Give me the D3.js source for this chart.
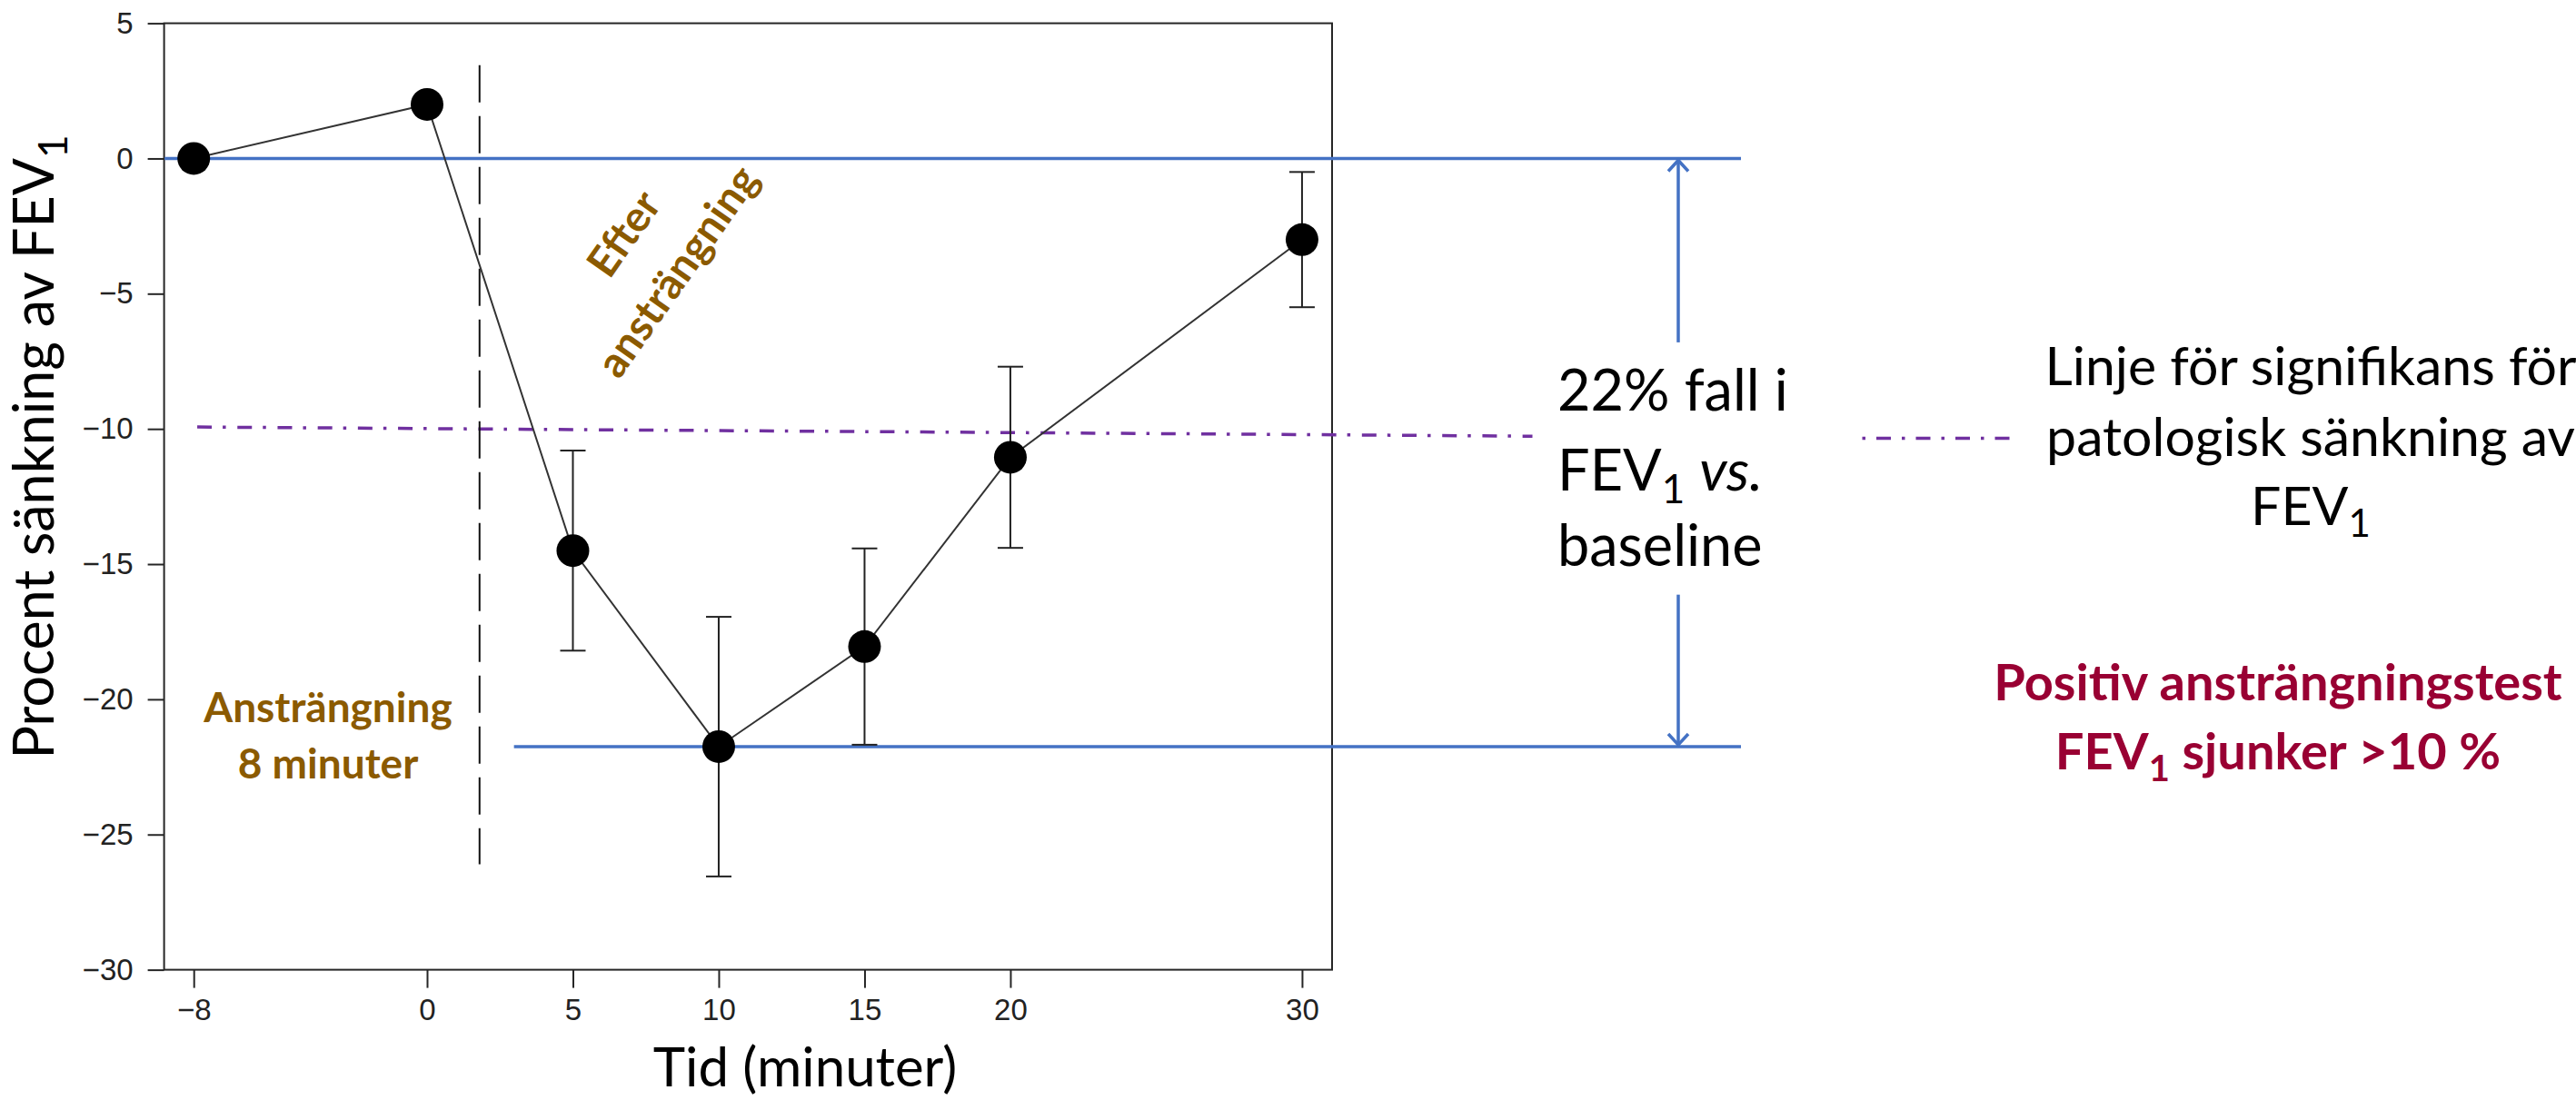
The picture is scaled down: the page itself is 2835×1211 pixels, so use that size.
<!DOCTYPE html>
<html>
<head>
<meta charset="utf-8">
<script src="https://cdn.jsdelivr.net/npm/d3@7"></script>
<style>
  html, body { margin: 0; padding: 0; background: #ffffff; }
  svg { display: block; }
</style>
</head>
<body>
<svg id="chart" width="2835" height="1211"></svg>
<script>
// ---------- data ----------
const times      = [-8, 0, 5, 10, 15, 20, 30];
const meanDrop   = [0, 2, -14.5, -21.75, -18.05, -11.05, -3.0];
const errHalf    = [null, null, 3.7, 4.8, 3.63, 3.35, 2.5];
const xTicks     = [-8, 0, 5, 10, 15, 20, 30];
const yTicks     = [5, 0, -5, -10, -15, -20, -25, -30];
const baselineLevel = 0;
const dropLevel     = -21.75;
const exerciseEnd   = 1.8;           // dashed vertical marker
const exerciseSpan  = [3.45, -26.1]; // y extent of marker
const sigLineX      = [-7.88, 37.9];
const sigLineY      = [-9.93, -10.27];
const blueTopX      = [-9.0, 45.05];
const blueBotX      = [2.98, 45.05];
const arrowX        = 42.9;
const arrowGap      = [-6.8, -16.13];

// ---------- setup ----------
const svg = d3.select("#chart");
const x = d3.scaleLinear().domain([-9.016, 31.03]).range([180.6, 1466]);
const y = d3.scaleLinear().domain([-30, 5]).range([1067.6, 25.6]);

const calibri = "Lato, 'Open Sans', sans-serif";
const arial = "'Liberation Sans', Arial, sans-serif";

// plot frame
svg.append("rect")
  .attr("x", x.range()[0]).attr("y", y.range()[1])
  .attr("width", x.range()[1] - x.range()[0])
  .attr("height", y.range()[0] - y.range()[1])
  .attr("fill", "none").attr("stroke", "#262626").attr("stroke-width", 2);

// axes
const yAxis = d3.axisLeft(y).tickValues(yTicks).tickSize(18).tickPadding(16);
const gy = svg.append("g").attr("transform", `translate(${x.range()[0]},0)`).call(yAxis);
const xAxis = d3.axisBottom(x).tickValues(xTicks).tickSize(20).tickPadding(12);
const gx = svg.append("g").attr("transform", `translate(0,${y.range()[0]})`).call(xAxis);
[gx, gy].forEach(g => {
  g.select(".domain").remove();
  g.selectAll(".tick line").attr("stroke", "#262626").attr("stroke-width", 2);
  g.selectAll(".tick text").attr("fill", "#222").style("font-family", arial).style("font-size", "33px");
});

// blue reference lines
const blue = "#4472C4";
svg.append("line")
  .attr("x1", x(blueTopX[0])).attr("x2", x(blueTopX[1]))
  .attr("y1", y(baselineLevel)).attr("y2", y(baselineLevel))
  .attr("stroke", blue).attr("stroke-width", 3.5);
svg.append("line")
  .attr("x1", x(blueBotX[0])).attr("x2", x(blueBotX[1]))
  .attr("y1", y(dropLevel)).attr("y2", y(dropLevel))
  .attr("stroke", blue).attr("stroke-width", 3.5);

// significance line (purple dash-dot)
const purple = "#7030A0";
svg.append("line")
  .attr("x1", x(sigLineX[0])).attr("x2", x(sigLineX[1]))
  .attr("y1", y(sigLineY[0])).attr("y2", y(sigLineY[1]))
  .attr("stroke", purple).attr("stroke-width", 3.5)
  .attr("stroke-dasharray", "16 12 3.5 12.7");

// exercise end marker (dashed)
svg.append("line")
  .attr("x1", x(exerciseEnd)).attr("x2", x(exerciseEnd))
  .attr("y1", y(exerciseSpan[0])).attr("y2", y(exerciseSpan[1]))
  .attr("stroke", "#111").attr("stroke-width", 2)
  .attr("stroke-dasharray", "41 15");

// connecting line
const pts = times.map((t, i) => ({t, m: meanDrop[i], e: errHalf[i]}));
svg.append("path")
  .datum(pts)
  .attr("d", d3.line().x(d => x(d.t)).y(d => y(d.m)))
  .attr("fill", "none").attr("stroke", "#333").attr("stroke-width", 2);

// error bars
const eb = svg.append("g").attr("stroke", "#222").attr("stroke-width", 2);
pts.filter(d => d.e != null).forEach(d => {
  eb.append("line").attr("x1", x(d.t)).attr("x2", x(d.t))
    .attr("y1", y(d.m + d.e)).attr("y2", y(d.m - d.e));
  [d.m + d.e, d.m - d.e].forEach(v => {
    eb.append("line").attr("x1", x(d.t) - 14).attr("x2", x(d.t) + 14)
      .attr("y1", y(v)).attr("y2", y(v));
  });
});

// points
svg.append("g").selectAll("circle").data(pts).join("circle")
  .attr("cx", d => x(d.t)).attr("cy", d => y(d.m)).attr("r", 18)
  .attr("fill", "#000");

// double arrow
const ax = x(arrowX);
svg.append("line").attr("x1", ax).attr("x2", ax)
  .attr("y1", y(baselineLevel)).attr("y2", y(arrowGap[0]))
  .attr("stroke", blue).attr("stroke-width", 3.5);
svg.append("line").attr("x1", ax).attr("x2", ax)
  .attr("y1", y(arrowGap[1])).attr("y2", y(dropLevel))
  .attr("stroke", blue).attr("stroke-width", 3.5);
svg.append("path")
  .attr("d", `M${ax-11},${y(baselineLevel)+14} L${ax},${y(baselineLevel)+2} L${ax+11},${y(baselineLevel)+14}`)
  .attr("fill", "none").attr("stroke", blue).attr("stroke-width", 3.5);
svg.append("path")
  .attr("d", `M${ax-11},${y(dropLevel)-14} L${ax},${y(dropLevel)-2} L${ax+11},${y(dropLevel)-14}`)
  .attr("fill", "none").attr("stroke", blue).attr("stroke-width", 3.5);

// helper for FEV1
function fev(sel, subSize) {
  sel.append("tspan").text("FEV");
  sel.append("tspan").text("1").style("font-size", subSize + "px").attr("dy", subSize * 0.35);
}

// axis titles
const yt = svg.append("text")
  .attr("transform", "translate(59,492) rotate(-90)")
  .attr("text-anchor", "middle")
  .style("font-family", calibri).style("font-size", "61px").attr("fill", "#000");
yt.append("tspan").text("Procent sänkning av ");
fev(yt, 44);

svg.append("text")
  .attr("x", 886).attr("y", 1196).attr("text-anchor", "middle")
  .style("font-family", calibri).style("font-size", "60px").attr("fill", "#000")
  .text("Tid (minuter)");

// brown annotations
const brown = "#8B5A00";
const a1 = svg.append("text").attr("text-anchor", "middle")
  .style("font-family", calibri).style("font-size", "46px").style("font-weight", "bold")
  .attr("fill", brown);
a1.append("tspan").attr("x", 361).attr("y", 795).text("Ansträngning");
a1.append("tspan").attr("x", 361).attr("y", 857).text("8 minuter");

const a2 = svg.append("text").attr("text-anchor", "middle")
  .attr("transform", "translate(759,308) rotate(-55)")
  .style("font-family", calibri).style("font-size", "47px").style("font-weight", "bold")
  .attr("fill", brown);
a2.append("tspan").attr("x", 0).attr("y", -72).text("Efter");
a2.append("tspan").attr("x", 0).attr("y", 0).text("ansträngning");

// 22% fall text
const t22 = svg.append("text")
  .style("font-family", calibri).style("font-size", "63px").attr("fill", "#000");
t22.append("tspan").attr("x", 1714).attr("y", 452).text("22% fall i");
const l2 = t22.append("tspan").attr("x", 1714).attr("y", 540);
l2.append("tspan").text("FEV");
l2.append("tspan").text("1").style("font-size", "44px").attr("dy", 14);
l2.append("tspan").text(" ").attr("dy", -14);
l2.append("tspan").text("vs.").style("font-style", "italic");
t22.append("tspan").attr("x", 1714).attr("y", 623).text("baseline");

// legend
svg.append("line")
  .attr("x1", 2049.5).attr("x2", 2214).attr("y1", 482.4).attr("y2", 482.4)
  .attr("stroke", purple).attr("stroke-width", 3.5)
  .attr("stroke-dasharray", "3.5 12 16 12");
const lg = svg.append("text").attr("text-anchor", "middle")
  .style("font-family", calibri).style("font-size", "59px").attr("fill", "#000");
lg.append("tspan").attr("x", 2543).attr("y", 424).text("Linje för signifikans för");
lg.append("tspan").attr("x", 2543).attr("y", 502).text("patologisk sänkning av");
const lg3 = lg.append("tspan").attr("x", 2543).attr("y", 578);
lg3.append("tspan").text("FEV");
lg3.append("tspan").text("1").style("font-size", "42px").attr("dy", 13);

// positive test
const crimson = "#990033";
const pt = svg.append("text").attr("text-anchor", "middle")
  .style("font-family", calibri).style("font-size", "56px").style("font-weight", "bold")
  .attr("fill", crimson);
pt.append("tspan").attr("x", 2507).attr("y", 770.6).text("Positiv ansträngningstest");
const pt2 = pt.append("tspan").attr("x", 2507).attr("y", 847);
pt2.append("tspan").text("FEV");
pt2.append("tspan").text("1").style("font-size", "40px").attr("dy", 13);
pt2.append("tspan").text(" sjunker >10 %").attr("dy", -13);
</script>
</body>
</html>
